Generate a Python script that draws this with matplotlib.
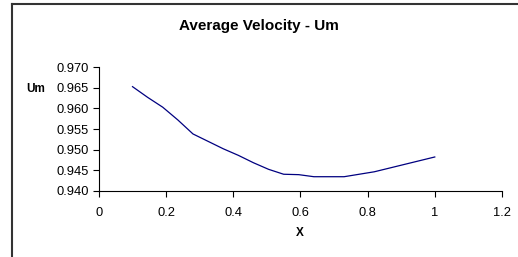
import numpy as np
import matplotlib.pyplot as plt
from matplotlib.lines import Line2D

plt.rcParams['font.family'] = ['Liberation Sans', 'DejaVu Sans']

x = [0.1, 0.145, 0.19, 0.235, 0.28, 0.325, 0.37, 0.415, 0.46, 0.505, 0.55,
     0.595, 0.64, 0.685, 0.73, 0.775, 0.82, 0.865, 0.91, 0.955, 1.0]
um = [0.9653, 0.9627, 0.9603, 0.9572, 0.9538, 0.9520, 0.9502, 0.9486, 0.9468,
      0.9452, 0.9440, 0.9439, 0.9434, 0.9434, 0.9434, 0.9440, 0.9446, 0.9455,
      0.9464, 0.9473, 0.9482]
xticks = [0, 0.2, 0.4, 0.6, 0.8, 1, 1.2]
xlabels = ["0", "0.2", "0.4", "0.6", "0.8", "1", "1.2"]
yticks = [0.940, 0.945, 0.950, 0.955, 0.960, 0.965, 0.970]

fig = plt.figure(figsize=(5.18, 2.57), dpi=100)
ax = fig.add_axes([0.191, 0.258, 0.778, 0.480])
ax.plot(x, um, color="#000080", lw=0.9)
ax.set_xlim(0, 1.2)
ax.set_ylim(0.940, 0.970)
ax.set_xticks(xticks)
ax.set_xticklabels(xlabels)
ax.set_yticks(yticks)
ax.set_yticklabels([f"{v:.3f}" for v in yticks])
ax.tick_params(labelsize=9.3, length=4, width=0.8, direction="out")
ax.tick_params(axis="x", pad=8)
ax.tick_params(axis="y", pad=3)
for s in ["top", "right"]:
    ax.spines[s].set_visible(False)
for s in ["left", "bottom"]:
    ax.spines[s].set_linewidth(0.8)

fig.text(0.5, 0.90, "Average Velocity - Um", ha="center", va="center",
         fontsize=11, fontweight="bold")
fig.text(0.069, 0.655, "Um", ha="center", va="center", fontsize=8.5, fontweight="bold")
fig.text(0.579, 0.093, "X", ha="center", va="center", fontsize=8.5, fontweight="bold")

# outer frame (left and top edges only visible)
fig.add_artist(Line2D([0.023, 0.023], [0, 0.986], transform=fig.transFigure,
                      color="#333333", lw=1.5))
fig.add_artist(Line2D([0.023, 1.0], [0.986, 0.986], transform=fig.transFigure,
                      color="#333333", lw=1.5))

plt.savefig("out.png", dpi=100)
